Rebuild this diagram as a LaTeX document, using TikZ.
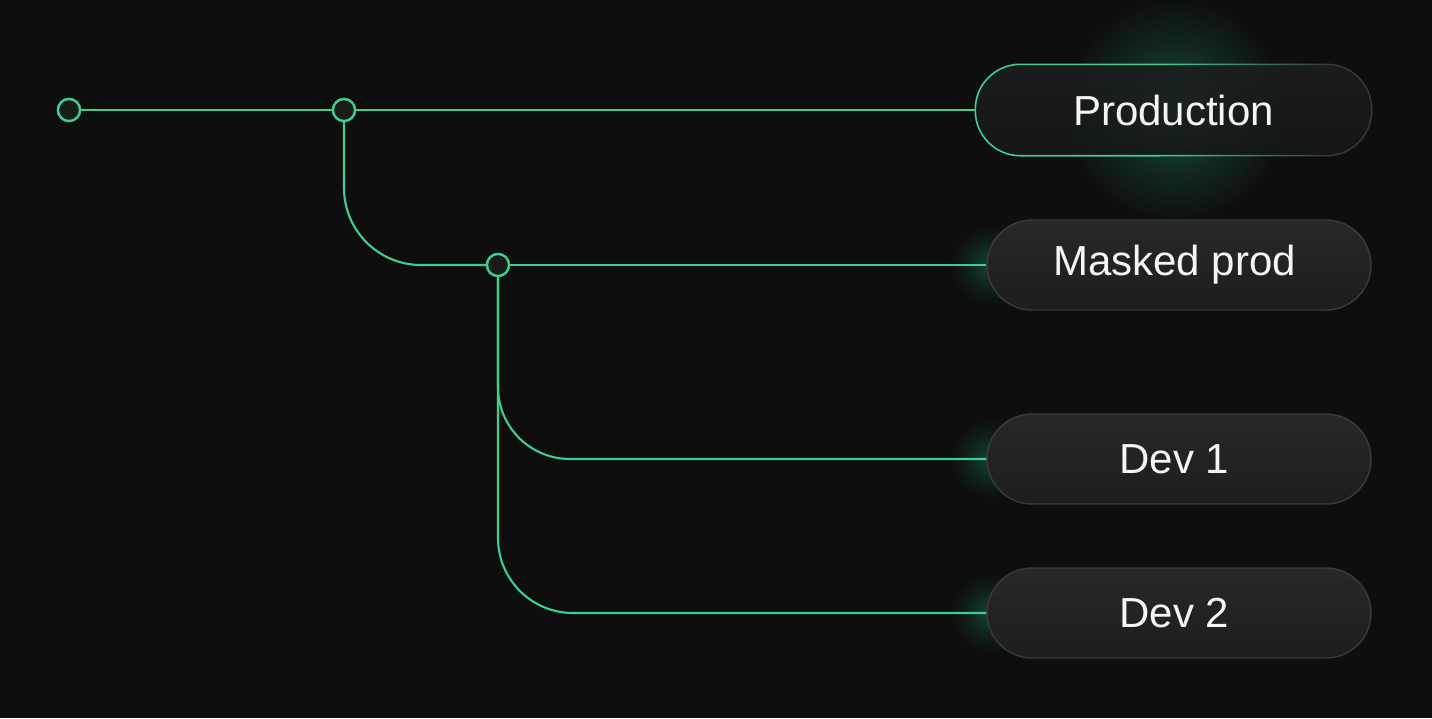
\documentclass[tikz,border=0pt]{standalone}
\usepackage{fontspec}
\setmainfont{Liberation Sans}
\definecolor{bg}{HTML}{0E0E0E}
\definecolor{brand}{HTML}{3ECF8E}
\definecolor{glowc}{HTML}{17503A}
\definecolor{glowd}{HTML}{134030}
\definecolor{boxtop}{HTML}{282828}
\definecolor{boxbot}{HTML}{1D1D1D}
\definecolor{prodtop}{HTML}{1C1E1E}
\definecolor{prodbot}{HTML}{161818}
\definecolor{boxline}{HTML}{3A3A3A}
\definecolor{dotfill}{HTML}{1A1C1C}
\definecolor{txt}{HTML}{F5F5F5}
\pgfdeclareradialshading{glowshade}{\pgfpoint{0bp}{0bp}}{color(0bp)=(glowc); color(6bp)=(glowc!80!bg); color(14bp)=(glowc!40!bg); color(25bp)=(bg); color(50bp)=(bg)}
\pgfdeclareradialshading{glowsmall}{\pgfpoint{0bp}{0bp}}{color(0bp)=(glowd); color(8bp)=(glowd!70!bg); color(16bp)=(glowd!30!bg); color(25bp)=(bg); color(50bp)=(bg)}
\begin{document}
\begin{tikzpicture}[x=1pt,y=-1pt,
  conn/.style={draw=brand, line width=2.1pt},
  dot/.style={circle, draw=brand, fill=dotfill, line width=2.3pt, minimum size=22pt, inner sep=0pt},
  env/.style={rectangle, rounded corners=45pt, minimum height=90pt, minimum width=384pt,
    top color=boxtop, bottom color=boxbot, draw=boxline, line width=1.4pt,
    text=txt, font=\fontsize{42}{50}\selectfont},
  prodenv/.style={env, minimum width=395pt, top color=prodtop, bottom color=prodbot, draw=none, fill opacity=0.88, text opacity=1}
]
\fill[bg] (0,0) rectangle (1432,718);
\useasboundingbox (0,0) rectangle (1432,718);

% glows
\shade[shading=glowshade] (1175,110) circle (112);
\shade[shading=glowsmall] (990,265) circle (40);
\shade[shading=glowsmall] (990,459) circle (40);
\shade[shading=glowsmall] (990,613) circle (40);

% nodes
\node[dot] (c1) at (69,110) {};
\node[dot] (c2) at (344,110) {};
\node[dot] (c3) at (498,265) {};

\node[prodenv] (prod) at (1173.5,110) {Production};
\node[env] (masked) at (1179,265) {Masked prod\rule{9pt}{0pt}};
\node[env] (dev1) at (1179,459) {Dev 1\rule{9pt}{0pt}};
\node[env] (dev2) at (1179,613) {Dev 2\rule{9pt}{0pt}};

% production outline: green on the left, fading to grey on the right
\begin{scope}
  \clip (900,40) rectangle (1160,180);
  \draw[brand, line width=1.6pt, rounded corners=45pt] (prod.south west) rectangle (prod.north east);
\end{scope}
\foreach \i in {0,...,15}{
  \pgfmathsetmacro{\xa}{1160+10*\i}
  \pgfmathsetmacro{\xb}{1170.5+10*\i}
  \pgfmathsetmacro{\pc}{100-6.25*\i}
  \begin{scope}
    \clip (\xa,40) rectangle (\xb,180);
    \draw[brand!\pc!boxline, line width=1.5pt, rounded corners=45pt] (prod.south west) rectangle (prod.north east);
  \end{scope}
}
\begin{scope}
  \clip (1320,40) rectangle (1400,180);
  \draw[boxline, line width=1.4pt, rounded corners=45pt] (prod.south west) rectangle (prod.north east);
\end{scope}

% connectors
\draw[conn] (c1) -- (c2);
\draw[conn] (c2) -- (prod);
\draw[conn, rounded corners=77pt] (c2) |- (c3);
\draw[conn] (c3) -- (masked);
\draw[conn, rounded corners=72pt] (c3) |- (dev1);
\draw[conn, rounded corners=75pt] (c3) |- (dev2);

% redraw dots on top of lines
\node[dot] at (c1) {};
\node[dot] at (c2) {};
\node[dot] at (c3) {};
\end{tikzpicture}
\end{document}
